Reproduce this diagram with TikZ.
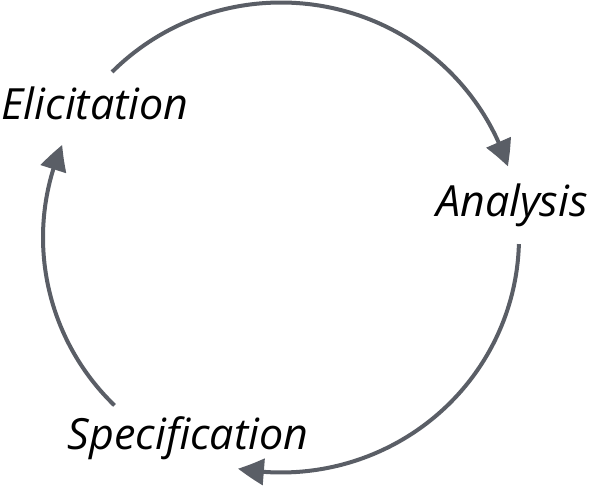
\documentclass[tikz,border=0pt]{standalone}
\usepackage{fontspec}
\setmainfont{Open Sans}
\usetikzlibrary{arrows.meta,bending,calc}
\definecolor{cyclegray}{HTML}{5A5E66}
\tikzset{
  phase/.style={font=\itshape\fontsize{43}{50}\selectfont, inner sep=0pt, anchor=base},
  cyc/.style={draw=cyclegray, line width=4pt, -{Triangle[length=26pt,width=26pt,bend]}}
}
\begin{document}
\begin{tikzpicture}[x=1pt,y=1pt]
  \useasboundingbox (0,0) rectangle (592,490);
  \coordinate (c) at (281,252.5);

  \node[phase] (E) at (95,370) {Elicitation};
  \node[phase] (A) at (512,273) {Analysis};
  \node[phase] (S) at (188,40) {Specification};

  \coordinate (e1) at ($(c)+(135.2:238 and 235)$);
  \coordinate (a1) at ($(c)+(-1.6:238 and 235)$);
  \coordinate (s1) at ($(c)+(225.6:238 and 235)$);

  \draw[cyc] (e1) arc[start angle=135.2, end angle=17.6, x radius=238, y radius=235];
  \draw[cyc] (a1) arc[start angle=-1.6, end angle=-100.4, x radius=238, y radius=235];
  \draw[cyc] (s1) arc[start angle=225.6, end angle=156.8, x radius=238, y radius=235];

\end{tikzpicture}
\end{document}
